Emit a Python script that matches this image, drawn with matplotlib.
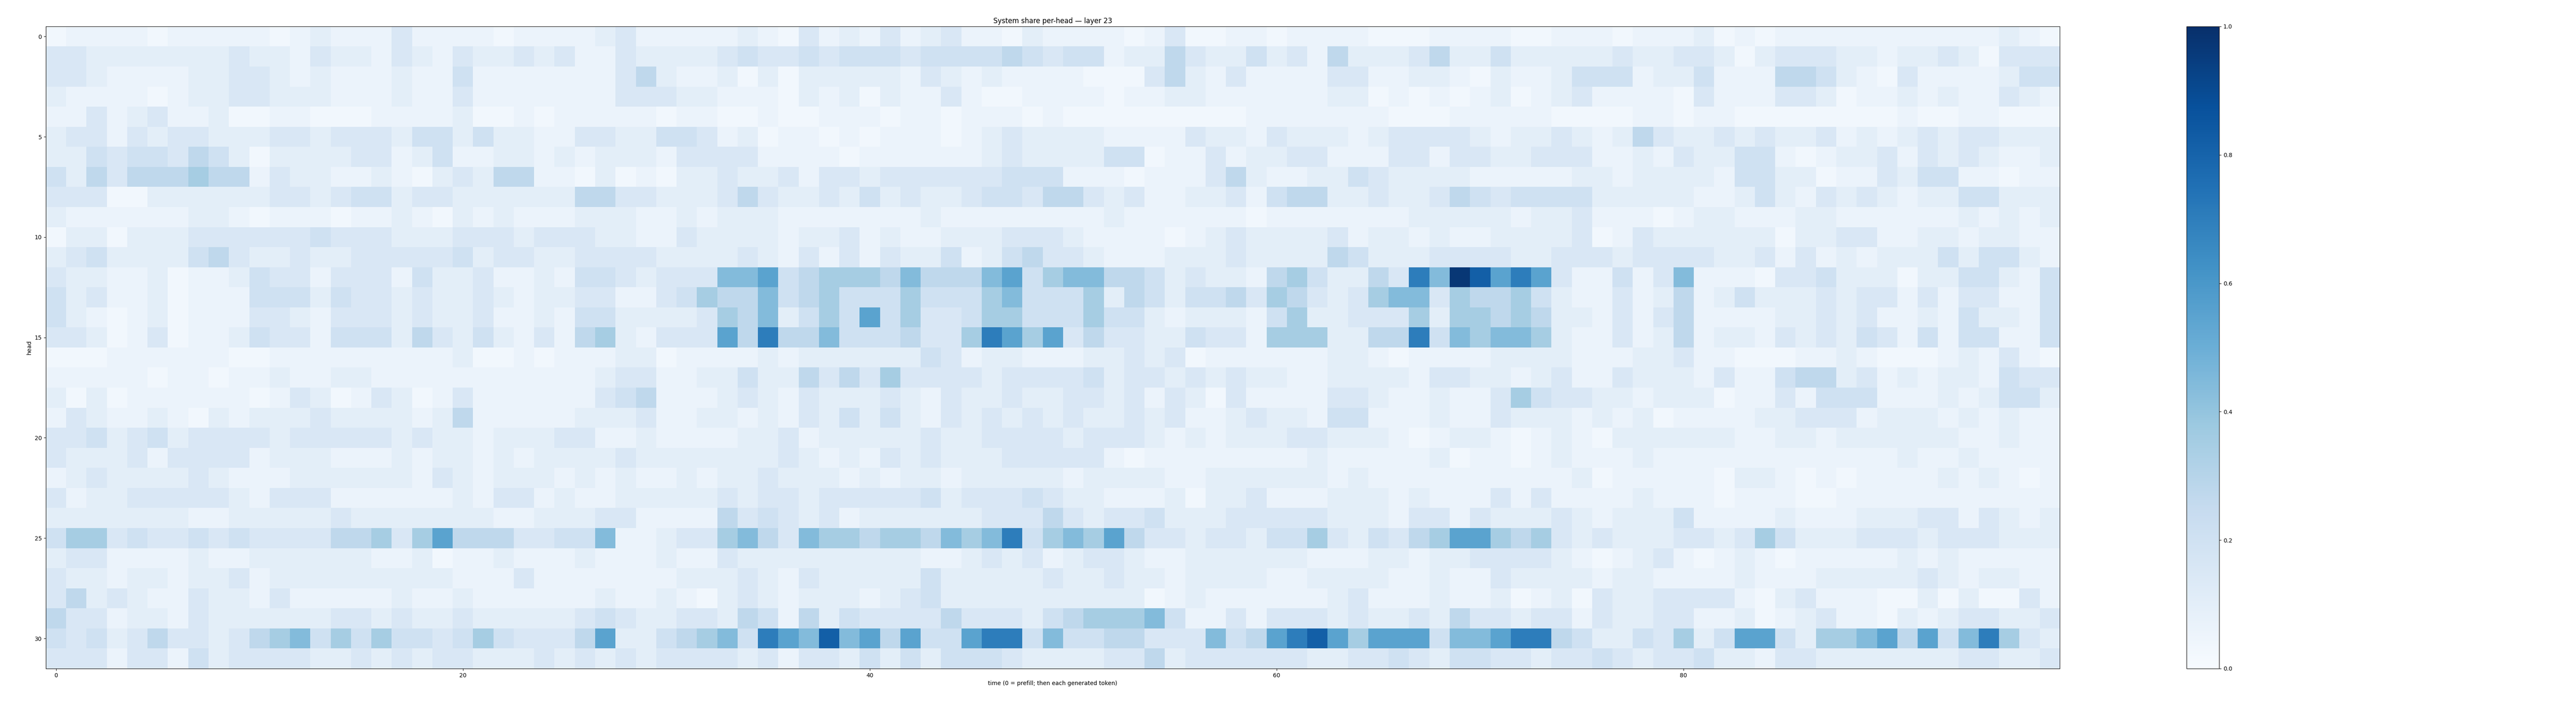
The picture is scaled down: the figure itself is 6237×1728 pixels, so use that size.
import numpy as np
import matplotlib
matplotlib.use("Agg")
from matplotlib import pyplot as plt

# Grey levels, one char per cell (head x time step).
# Each head row is split in three chunks: t 0-32, t 33-65, t 66-98.
rows_a = [
    "01111 01111 10121 11311 11011 11231 111",
    "33222 22223 22132 21321 32232 31132 222",
    "33211 11223 32121 11211 41111 11135 211",
    "21111 01223 32221 11211 31111 11133 322",
    "11312 31120 01100 01111 20010 11111 011",
    "23313 23322 23323 33244 24221 13322 443",
    "22434 43542 02222 33124 11221 21222 133",
    "42535 55655 13221 12102 32551 10201 022",
    "33300 22222 23323 44233 22222 25533 222",
    "21111 11221 01110 11210 21211 12221 121",
    "02202 22333 33343 33222 33323 33221 132",
    "23422 22453 22322 33333 42332 23333 222",
    "32211 20112 43313 33142 23112 14432 333",
    "42311 20111 44424 33232 23212 23311 346",
    "42101 20111 33213 33232 23112 14422 223",
    "33201 30112 43314 44253 24213 15621 333",
    "00011 11110 01111 11111 20010 11122 011",
    "11111 01101 12112 21111 11111 11233 112",
    "20201 11111 01320 13201 31111 11345 111",
    "13211 21021 22232 22212 51111 12223 112",
    "33423 42333 32333 33232 21222 33112 111",
    "32223 13333 12221 11212 21212 22232 222",
    "12322 22321 11222 22213 21222 12121 121",
    "31223 33332 13331 11111 21331 21122 222",
    "22222 22112 22223 22222 22112 22331 111",
    "46634 33434 33335 56368 55533 44711 233",
    "23311 11211 22222 21120 11211 12111 211",
    "32212 21223 12222 22222 11131 11111 122",
    "35232 11322 13111 11211 21111 11211 210",
    "53312 21322 22223 32322 32222 23432 233",
    "43423 53323 56746 46443 46433 35822 456",
    "33313 31423 33322 32323 32223 23232 333",
]
rows_b = [
    "12103 12131 23110 21111 01300 11011 110",
    "34334 34443 44445 43441 22532 24231 522",
    "20202 22221 32121 11100 03521 31111 331",
    "11102 12021 13100 11110 11221 11111 220",
    "00100 11101 10111 01000 00000 01111 111",
    "12011 01011 10123 22221 11132 21322 212",
    "33111 10111 11123 22224 40113 12233 111",
    "32231 33233 33334 44111 01113 52112 243",
    "35322 32423 22344 35532 31122 31455 223",
    "22211 11111 21111 11112 11111 10111 111",
    "22212 23121 12223 33211 11012 32222 312",
    "23213 13132 24124 53321 11222 32222 542",
    "77845 66657 55578 46775 54232 21564 225",
    "55745 64446 44467 44462 54244 53653 236",
    "65724 64846 33466 44464 42122 21462 233",
    "85955 74445 33698 68353 32243 31666 225",
    "11212 22222 43122 11122 32301 11111 221",
    "24225 35363 33323 33342 33232 32211 222",
    "23213 22232 13223 22332 31320 31111 332",
    "21213 24242 13232 32322 32311 23221 441",
    "12231 22222 32233 33233 32121 22233 222",
    "22232 12132 32223 33331 01111 11112 111",
    "22322 21212 21222 22122 22112 22222 121",
    "32332 33333 42333 43221 11202 23111 222",
    "53432 31222 22233 35323 34222 33333 222",
    "67537 66566 57679 46768 53323 32446 324",
    "32222 22222 11232 31233 21122 22221 112",
    "23213 22222 42222 23223 22122 22112 222",
    "23212 22123 42222 22222 20121 11111 231",
    "25415 24333 35333 24566 67411 31333 232",
    "74987 a7858 44899 47445 53337 4589a 868",
    "32313 32424 24443 22223 35233 33332 233",
]
rows_c = [
    "00111 10011 10111 20101 11111 11111 210",
    "23522 42222 23223 32023 33221 22320 333",
    "12210 21124 44122 41115 54210 31111 244",
    "10101 20123 11110 31113 32011 21211 321",
    "00011 11100 00110 11000 00000 10011 000",
    "33332 12232 12532 23232 23121 23233 222",
    "33133 22333 11213 22441 01223 13232 112",
    "22221 11112 21222 21442 20113 24411 011",
    "22354 34444 22222 11242 13232 12244 222",
    "12222 21223 11101 22111 22111 11121 212",
    "21211 22223 01322 22220 22331 12212 211",
    "22333 32233 32333 32231 31212 22424 421",
    "397ba 89831 14137 11103 34222 02244 214",
    "77365 56421 13125 12422 23233 13133 114",
    "36266 56522 13135 11112 23231 12142 214",
    "59476 77621 13125 12213 23243 14144 114",
    "01111 22221 11223 11000 11210 00121 310",
    "21332 21231 13222 13114 55231 21221 433",
    "11211 36433 22122 20113 14441 11212 442",
    "11211 32221 21201 11122 33312 22121 211",
    "10122 10121 02222 22112 21222 22211 211",
    "11201 10121 11211 11111 11111 21121 111",
    "11111 11112 01111 10221 01011 11212 101",
    "12111 31311 11211 10111 00111 11111 111",
    "13313 22232 12224 11112 11122 23313 212",
    "35688 65632 32223 32364 22233 32333 222",
    "21223 33321 01231 01210 11111 21211 111",
    "11211 32222 12211 11211 12222 23212 211",
    "11211 20120 32233 33102 31110 02020 031",
    "23253 32331 32233 11201 23110 21233 223",
    "88477 89954 22436 24884 26678 58479 632",
    "43244 33233 43233 42213 32222 22233 223",
]
level_values = {"0": 0.03, "1": 0.06, "2": 0.10, "3": 0.15, "4": 0.20, "5": 0.27,
                "6": 0.35, "7": 0.44, "8": 0.55, "9": 0.70, "a": 0.82, "b": 0.97}

n_time = 99
share = []
for a, b, c in zip(rows_a, rows_b, rows_c):
    s = (a + b + c).replace(" ", "")
    vals = [level_values[ch] for ch in s][:n_time]
    while len(vals) < n_time:
        vals.append(vals[-1])
    share.append(vals)
share = np.array(share)

fig = plt.figure(figsize=(62.37, 17.28), dpi=100)
ax = fig.add_axes([0.0178, 0.0637, 0.7818, 0.8993])
im = ax.imshow(share, aspect="auto", cmap="Blues", vmin=0, vmax=1, interpolation="nearest")
ax.set_title("System share per-head \u2014 layer 23")
ax.set_xlabel("time (0 = prefill; then each generated token)")
ax.set_ylabel("head")

cax = fig.add_axes([0.8488, 0.0637, 0.0127, 0.8993])
fig.colorbar(im, cax=cax)

fig.savefig("out.png", dpi=100)
